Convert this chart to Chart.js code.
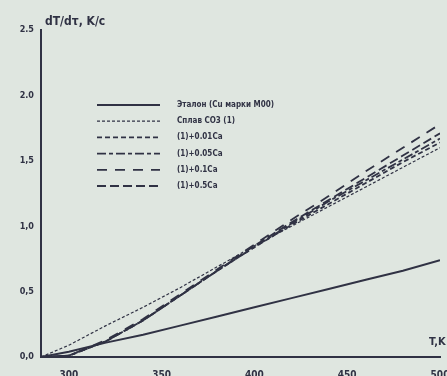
<!DOCTYPE html>
<html>
<head>
<meta charset="utf-8">
<script src="https://cdn.jsdelivr.net/npm/chart.js@4/dist/chart.umd.min.js"></script>
<style>
  html, body { margin: 0; padding: 0; background: #dfe6e0; }
  #wrap { width: 447px; height: 376px; }
  canvas { filter: blur(0.5px); }
</style>
</head>
<body>
<div id="wrap"><canvas id="grafico" width="447" height="376"></canvas></div>
<script>
// температура, K
const temps = [285, 300, 320, 340, 360, 380, 400, 420, 440, 460, 480, 500];

// dT/dτ, K/c
const etalon  = [0, 0.04, 0.11, 0.17, 0.24, 0.31, 0.38, 0.45, 0.52, 0.59, 0.66, 0.74];
const splav   = [0, 0.09, 0.24, 0.38, 0.53, 0.69, 0.85, 1.00, 1.15, 1.30, 1.45, 1.60];
const ca001   = [0, 0.01, 0.12, 0.28, 0.47, 0.66, 0.84, 1.01, 1.17, 1.33, 1.49, 1.64];
const ca005   = [0, 0.01, 0.12, 0.28, 0.47, 0.66, 0.84, 1.02, 1.19, 1.35, 1.51, 1.67];
const ca01    = [0, 0.01, 0.13, 0.29, 0.48, 0.67, 0.86, 1.05, 1.23, 1.42, 1.60, 1.78];
const ca05    = [0, 0.01, 0.12, 0.28, 0.47, 0.66, 0.85, 1.03, 1.20, 1.37, 1.54, 1.71];

const labels = ['Эталон (Cu марки М00)', 'Сплав СО3 (1)', '(1)+0.01Ca', '(1)+0.05Ca', '(1)+0.1Ca', '(1)+0.5Ca'];
const xTicks = [300, 350, 400, 450, 500];
const yTicks = [0, 0.5, 1.0, 1.5, 2.0, 2.5];
const yTickLabels = ['0,0', '0,5', '1,0', '1,5', '2.0', '2.5'];

const ink = 'rgb(48,50,68)';
const font = "'Liberation Sans Narrow', 'DejaVu Sans Condensed', sans-serif";

function toPoints(values) {
    return values.map((v, i) => ({ x: temps[i], y: v }));
}

const series = [etalon, splav, ca001, ca005, ca01, ca05];
const dashes = [[], [3, 2], [5, 3], [9, 3, 4, 3], [10, 8], [9, 4]];
const widths = [2, 1.2, 1.8, 1.8, 1.8, 1.8];

const datasets = series.map((s, i) => ({
    label: labels[i],
    data: toPoints(s),
    borderColor: ink,
    borderWidth: widths[i],
    borderDash: dashes[i],
    pointRadius: 0,
    fill: false,
    tension: 0
}));

// подписи осей и легенда
const extras = {
    id: 'extras',
    afterDraw(chart) {
        const ctx = chart.ctx;
        const a = chart.chartArea;
        ctx.save();
        ctx.fillStyle = ink;
        ctx.font = 'bold 12px ' + font;
        ctx.textBaseline = 'alphabetic';
        ctx.fillText('dT/dτ, K/c', a.left + 4, a.top - 5);
        ctx.font = 'bold 11px ' + font;
        ctx.fillText('T,K', a.right - 11, a.bottom - 12);

        ctx.font = 'bold 8px ' + font;
        ctx.textBaseline = 'middle';
        chart.data.datasets.forEach((ds, i) => {
            const y = 105 + i * 16.2;
            ctx.strokeStyle = ink;
            ctx.lineWidth = ds.borderWidth;
            ctx.setLineDash(ds.borderDash);
            ctx.beginPath();
            ctx.moveTo(97, y);
            ctx.lineTo(160, y);
            ctx.stroke();
            ctx.fillText(ds.label, 177, y);
        });
        ctx.restore();
    }
};

new Chart(document.getElementById('grafico').getContext('2d'), {
    type: 'line',
    data: { datasets: datasets },
    options: {
        responsive: false,
        animation: false,
        layout: { padding: { top: 30, right: 7, left: 0, bottom: 0 } },
        plugins: { legend: { display: false }, tooltip: { enabled: false } },
        scales: {
            x: {
                type: 'linear',
                min: 285,
                max: 500,
                afterBuildTicks: axis => { axis.ticks = xTicks.map(v => ({ value: v })); },
                afterFit: axis => { axis.height = 19; axis.paddingLeft = 0; axis.paddingRight = 0; },
                grid: { display: false, drawTicks: true, tickLength: 4, color: ink },
                border: { color: ink, width: 2 },
                ticks: { color: ink, font: { family: font, size: 10, weight: 'bold' }, padding: 8, maxRotation: 0 }
            },
            y: {
                min: 0,
                max: 2.5,
                afterBuildTicks: axis => { axis.ticks = yTicks.map(v => ({ value: v })); },
                afterFit: axis => { axis.width = 41; axis.paddingTop = 0; axis.paddingBottom = 0; },
                grid: { display: false, drawTicks: true, tickLength: 4, color: ink },
                border: { color: ink, width: 2 },
                ticks: {
                    color: ink,
                    font: { family: font, size: 9, weight: 'bold' },
                    padding: 3,
                    callback: (v, i) => yTickLabels[i]
                }
            }
        }
    },
    plugins: [extras]
});
</script>
</body>
</html>
